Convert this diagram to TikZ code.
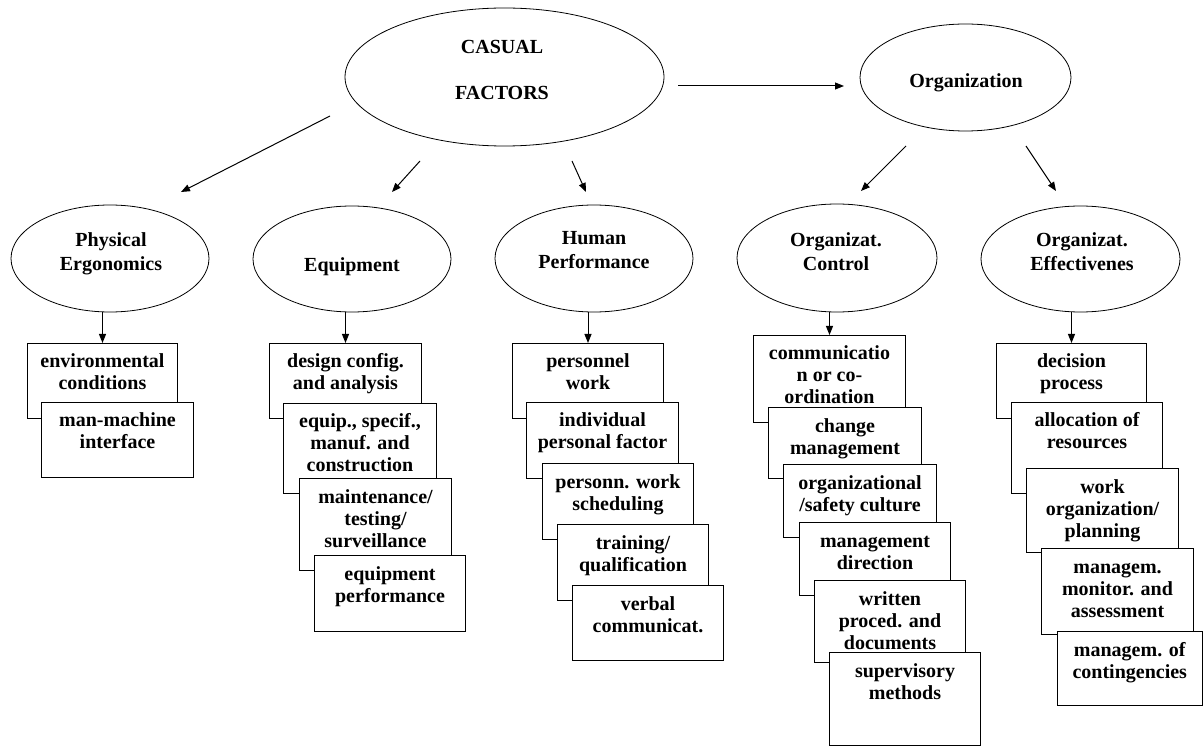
\documentclass[tikz,border=0pt]{standalone}
\usepackage{fontspec}
\setmainfont{Liberation Serif}
\usetikzlibrary{shapes.geometric,arrows.meta,calc}
\newcommand\tl[1]{\begin{tabular}[t]{@{}c@{}}#1\end{tabular}}
\newcommand\stk[6]{%
  \node[bx, minimum width={(#4)-(#2)}, minimum height={(#5)-(#3)}] (#1) at (#2,#3) {};
  \node[btxt] (#1t) at ($(#1.north)+(0,25)$) {\tl{#6}};
}
\tikzset{
  ell/.style={draw, ellipse, line width=0.8pt, inner sep=0pt, fill=white},
  bx/.style={draw, fill=white, line width=1pt, inner sep=0pt, anchor=north west},
  btxt/.style={inner sep=0pt, anchor=base, font=\bfseries\fontsize{20}{22}\selectfont},
  etxt/.style={inner sep=0pt, anchor=base, font=\bfseries\fontsize{20}{24}\selectfont},
  arr/.style={-{Triangle[length=9pt,width=7pt]}, line width=1pt},
}
\begin{document}
\begin{tikzpicture}[x=1pt,y=-1pt]
\fill[white] (0,0) rectangle (1203,751);
\path[use as bounding box] (0,0) rectangle (1203,751);

% top ellipses
\node[ell, minimum width=319pt, minimum height=138pt] (cf) at (504.5,77) {};
\node[etxt, font=\bfseries\fontsize{20}{46}\selectfont] (cft) at (502,54) {\tl{CASUAL\\FACTORS}};
\node[ell, minimum width=211pt, minimum height=107pt] (org) at (965.5,77.5) {};
\node[etxt] (orgt) at (966,88) {Organization};

% second-row ellipses
\node[ell, minimum width=198pt, minimum height=107pt] (pe) at (110,258.5) {};
\node[etxt] (pet) at (111,247) {\tl{Physical\\Ergonomics}};
\node[ell, minimum width=198pt, minimum height=106pt] (eq) at (352,259) {};
\node[etxt] (eqt) at (352,272) {Equipment};
\node[ell, minimum width=198pt, minimum height=107pt] (hp) at (594,258.5) {};
\node[etxt] (hpt) at (594,245) {\tl{Human\\Performance}};
\node[ell, minimum width=200pt, minimum height=108pt] (oc) at (837,258) {};
\node[etxt] (oct) at (836,247) {\tl{Organizat.\\Control}};
\node[ell, minimum width=199pt, minimum height=106pt] (oe) at (1080.5,259) {};
\node[etxt] (oet) at (1082,247) {\tl{Organizat.\\Effectivenes}};

% top connectors
\coordinate (a1s) at (330,116);  \coordinate (a1e) at (181,192);
\coordinate (a2s) at (420,161);  \coordinate (a2e) at (392,192);
\coordinate (a3s) at (572,161);  \coordinate (a3e) at (586,192);
\coordinate (a4s) at (678,86);   \coordinate (a4e) at (844,86);
\coordinate (a5s) at (906,146);  \coordinate (a5e) at (861,191);
\coordinate (a6s) at (1026,146); \coordinate (a6e) at (1056,191);
\draw[arr] (a1s) -- (a1e);
\draw[arr] (a2s) -- (a2e);
\draw[arr] (a3s) -- (a3e);
\draw[arr] (a4s) -- (a4e);
\draw[arr] (a5s) -- (a5e);
\draw[arr] (a6s) -- (a6e);

% column 1
\stk{A1}{27}{343}{177}{418}{environmental\\conditions}
\stk{A2}{41}{402}{193}{477}{man-machine\\interface}

% column 2
\stk{B1}{269}{343}{421}{418}{design config.\\and analysis}
\stk{B2}{283}{403}{436}{493}{equip., specif.,\\manuf. and\\construction}
\stk{B3}{299}{478}{451}{570}{maintenance/\\testing/\\surveillance}
\stk{B4}{314}{555}{465}{631}{equipment\\performance}

% column 3
\stk{C1}{512}{343}{663}{418}{personnel\\work}
\stk{C2}{526}{402}{678}{478}{individual\\personal factor}
\stk{C3}{542}{463}{693}{539}{personn. work\\scheduling}
\stk{C4}{557}{524}{708}{600}{training/\\qualification}
\stk{C5}{572}{585}{723}{660}{verbal\\communicat.}

% column 4
\stk{D1}{753}{335}{905}{422}{communicatio\\n or co-\\ordination}
\stk{D2}{768}{407}{921}{478}{change\\management}
\stk{D3}{783}{464}{936}{537}{organizational\\/safety culture}
\stk{D4}{799}{522}{950}{595}{management\\direction}
\stk{D5}{814}{580}{965}{662}{written\\proced. and\\documents}
\stk{D6}{829}{652}{980}{745}{supervisory\\methods}

% column 5
\stk{E1}{996}{343}{1146}{418}{decision\\process}
\stk{E2}{1011}{402}{1162}{493}{allocation of\\resources}
\stk{E3}{1026}{468}{1178}{552}{work\\organization/\\planning}
\stk{E4}{1041}{548}{1193}{634}{managem.\\monitor. and\\assessment}
\stk{E5}{1057}{631}{1201.5}{705}{managem. of\\contingencies}

% ellipse to first box
\draw[arr] (pe.south -| A1.north) -- (A1.north);
\draw[arr] (eq.south -| B1.north) -- (B1.north);
\draw[arr] (hp.south -| C1.north) -- (C1.north);
\draw[arr] (oc.south -| D1.north) -- (D1.north);
\draw[arr] (oe.south -| E1.north) -- (E1.north);
\end{tikzpicture}
\end{document}
